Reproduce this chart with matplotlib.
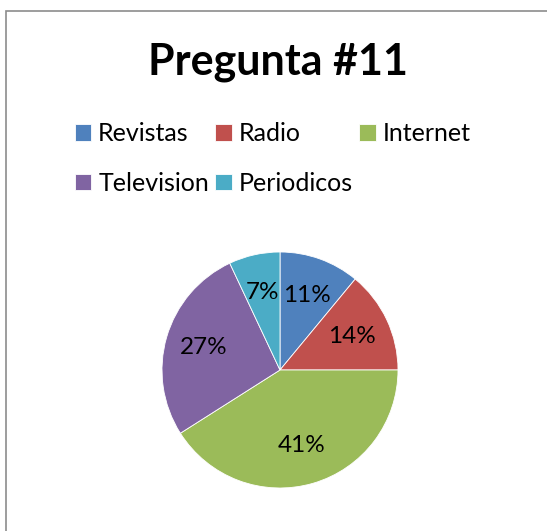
import matplotlib.pyplot as plt
from matplotlib.patches import Rectangle

# datos de la pregunta 11
categorias = ['Revistas', 'Radio', 'Internet', 'Television', 'Periodicos']
porcentajes = [11, 14, 41, 27, 7]
colores = ['#4F81BD', '#C0504D', '#9BBB59', '#8064A2', '#4BACC6']

plt.rcParams['font.family'] = ['Lato', 'DejaVu Sans']

fig = plt.figure(figsize=(5.47, 5.31), dpi=100)

# marco del grafico (estilo Excel)
fig.patches.append(Rectangle((6 / 547, -0.1), 1.2, 1 - 11 / 531 + 0.1,
                             transform=fig.transFigure, fill=False,
                             edgecolor='#8c8c8c', linewidth=1.2))

fig.text(278 / 547, 1 - 62 / 531, 'Pregunta #11', ha='center', va='center',
         fontsize=31, fontweight='bold')

ax = fig.add_axes([162 / 547, 43 / 531, 236 / 547, 236 / 531])
wedges, textos, autotextos = ax.pie(
    porcentajes, colors=colores, startangle=90, counterclock=False,
    autopct='%1.0f%%', pctdistance=0.67,
    wedgeprops=dict(edgecolor='white', linewidth=0.6),
    textprops=dict(fontsize=17.5, color='black'))
ax.set_xlim(-1, 1)
ax.set_ylim(-1, 1)
ax.set_aspect('equal')

# leyenda en orden de filas (matplotlib llena por columnas)
orden = [0, 3, 1, 4, 2]
fig.legend([wedges[i] for i in orden], [categorias[i] for i in orden],
           ncol=3, loc='upper left', bbox_to_anchor=(62 / 547, 1 - 110 / 531),
           frameon=False, fontsize=18, handlelength=0.65, handleheight=0.65,
           handletextpad=0.3, columnspacing=0.25, labelspacing=1.05,
           borderpad=0)

fig.savefig('out.png', dpi=100)
